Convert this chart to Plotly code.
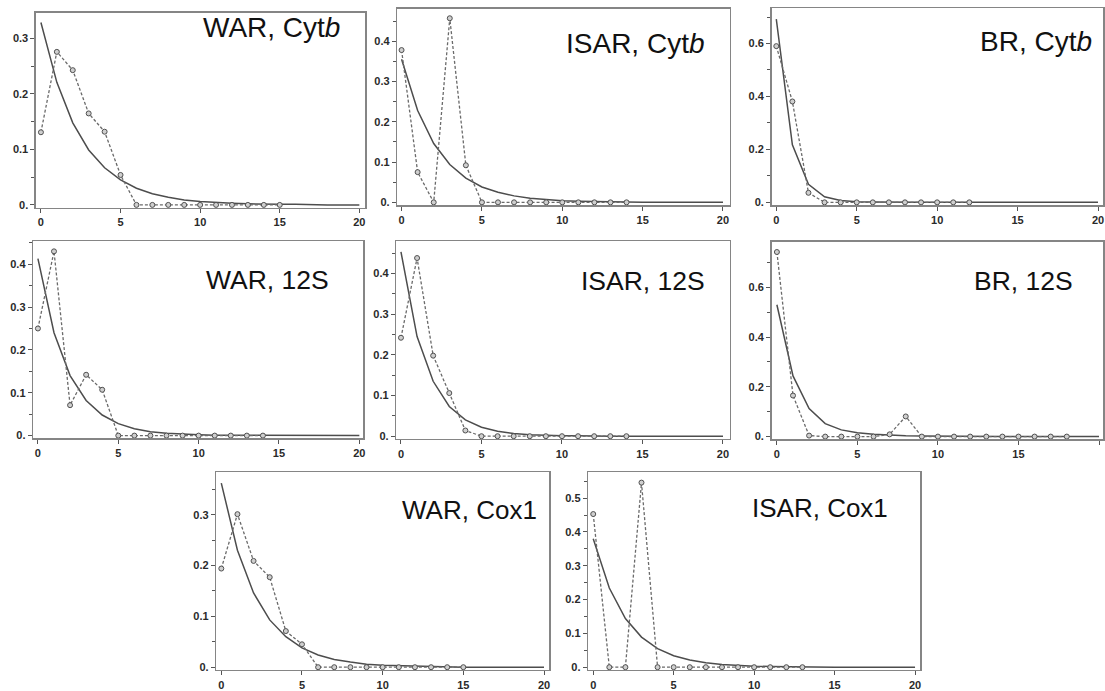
import plotly.graph_objects as go

W, H = 1105, 691

# ---------------- data ----------------
titles = ["WAR, Cyt<i>b</i>", "ISAR, Cyt<i>b</i>", "BR, Cyt<i>b</i>",
          "WAR, 12S", "ISAR, 12S", "BR, 12S",
          "WAR, Cox1", "ISAR, Cox1"]

# observed mismatch distributions (dashed, circles), x = 0,1,2,...
obs_war_cytb = [0.131, 0.276, 0.243, 0.165, 0.132, 0.054, 0, 0, 0, 0, 0, 0, 0, 0, 0, 0]
obs_isar_cytb = [0.378, 0.075, 0.0, 0.457, 0.092, 0, 0, 0, 0, 0, 0, 0, 0, 0, 0]
obs_br_cytb = [0.590, 0.381, 0.036, 0, 0, 0, 0, 0, 0, 0, 0, 0, 0]
obs_war_12s = [0.250, 0.430, 0.071, 0.142, 0.107, 0, 0, 0, 0, 0, 0, 0, 0, 0, 0]
obs_isar_12s = [0.242, 0.438, 0.198, 0.106, 0.014, 0, 0, 0, 0, 0, 0, 0, 0, 0, 0]
obs_br_12s = [0.742, 0.165, 0.004, 0, 0, 0, 0, 0.009, 0.081, 0, 0, 0, 0, 0, 0, 0, 0, 0, 0]
obs_war_cox1 = [0.194, 0.301, 0.209, 0.177, 0.071, 0.045, 0, 0, 0, 0, 0, 0, 0, 0, 0, 0]
obs_isar_cox1 = [0.453, 0, 0, 0.546, 0, 0, 0, 0, 0, 0, 0, 0, 0, 0]

# expected distributions (solid), x = 0..20
exp_war_cytb = [0.329, 0.221, 0.148, 0.099, 0.067, 0.045, 0.030, 0.020, 0.014, 0.009, 0.006,
                0.004, 0.003, 0.002, 0.001, 0.001, 0.001, 0.0, 0.0, 0.0, 0.0]
exp_isar_cytb = [0.355, 0.228, 0.146, 0.094, 0.060, 0.038, 0.025, 0.016, 0.010, 0.0065, 0.004,
                 0.003, 0.002, 0.001, 0.001, 0.0, 0.0, 0.0, 0.0, 0.0, 0.0]
exp_br_cytb = [0.692, 0.217, 0.068, 0.021, 0.007, 0.002, 0.001, 0.0, 0.0, 0.0, 0.0,
               0.0, 0.0, 0.0, 0.0, 0.0, 0.0, 0.0, 0.0, 0.0, 0.0]
exp_war_12s = [0.413, 0.240, 0.140, 0.082, 0.048, 0.028, 0.016, 0.009, 0.0055, 0.003, 0.002,
               0.001, 0.001, 0.0, 0.0, 0.0, 0.0, 0.0, 0.0, 0.0, 0.0]
exp_isar_12s = [0.453, 0.245, 0.135, 0.073, 0.040, 0.022, 0.012, 0.0065, 0.0035, 0.002, 0.001,
                0.001, 0.0, 0.0, 0.0, 0.0, 0.0, 0.0, 0.0, 0.0, 0.0]
exp_br_12s = [0.530, 0.244, 0.113, 0.052, 0.027, 0.015, 0.009, 0.005, 0.003, 0.002, 0.001,
              0.001, 0.0, 0.0, 0.0, 0.0, 0.0, 0.0, 0.0, 0.0, 0.0]
exp_war_cox1 = [0.362, 0.230, 0.146, 0.093, 0.060, 0.038, 0.024, 0.015, 0.010, 0.006, 0.004,
                0.003, 0.002, 0.001, 0.001, 0.0, 0.0, 0.0, 0.0, 0.0, 0.0]
exp_isar_cox1 = [0.380, 0.234, 0.144, 0.089, 0.055, 0.034, 0.021, 0.013, 0.008, 0.005, 0.003,
                 0.002, 0.001, 0.001, 0.0, 0.0, 0.0, 0.0, 0.0, 0.0, 0.0]

observed = [obs_war_cytb, obs_isar_cytb, obs_br_cytb, obs_war_12s,
            obs_isar_12s, obs_br_12s, obs_war_cox1, obs_isar_cox1]
expected = [exp_war_cytb, exp_isar_cytb, exp_br_cytb, exp_war_12s,
            exp_isar_12s, exp_br_12s, exp_war_cox1, exp_isar_cox1]

x_tick_vals = [0, 5, 10, 15, 20]
x_tick_labels = ["0", "5", "10", "15", "20"]
y_ticks_01 = [0, 0.1, 0.2, 0.3, 0.4, 0.5]
y_labels_01 = ["0.", "0.1", "0.2", "0.3", "0.4", "0.5"]
y_ticks_02 = [0, 0.2, 0.4, 0.6]
y_labels_02 = ["0.", "0.2", "0.4", "0.6"]

# ---------------- layout geometry (pixels) ----------------
# frame l, t, r, b ; pixel of x=0, x=20 ; pixel of y=0 ; (y ref value, its pixel) ; tick step
geom = [
    dict(l=36, t=13, r=366, b=210, x0=41, x20=360, y0=207.3, yv=0.3, yp=39.0, step=0.1),
    dict(l=398, t=9, r=731, b=207.5, x0=402.3, x20=724.3, y0=204.7, yv=0.4, yp=41.7, step=0.1),
    dict(l=773, t=8.3, r=1106, b=207.5, x0=777.7, x20=1100, y0=204.7, yv=0.6, yp=44.0, step=0.2),
    dict(l=33.3, t=244, r=364, b=443.5, x0=38, x20=360, y0=440.7, yv=0.4, yp=267.3, step=0.1),
    dict(l=397, t=244, r=731, b=444, x0=401.7, x20=724.3, y0=441.3, yv=0.4, yp=276.7, step=0.1),
    dict(l=773, t=244.5, r=1106, b=444.5, x0=778.3, x20=1101, y0=441.7, yv=0.6, yp=290.7, step=0.2),
    dict(l=216.7, t=477.7, r=550, b=677.7, x0=221.7, x20=545, y0=675, yv=0.3, yp=520.7, step=0.1),
    dict(l=589.3, t=477.7, r=921.7, b=677.7, x0=594.3, x20=916.7, y0=675, yv=0.5, yp=504, step=0.1),
]
# title right edge x, vertical centre y, font size
title_pos = [(343, 28, 28), (708, 44, 28), (1096, 42, 28), (332, 283, 26.5),
             (708, 284, 26.5), (1077, 284, 26.5), (540, 516, 26), (892, 514, 26)]

frame_col = "#858585"
tick_font = dict(family="Liberation Sans, Arial, sans-serif", size=11, color="#2a2a2a", weight="bold")

fig = go.Figure()
layout = dict(width=W, height=H, margin=dict(l=0, r=0, t=0, b=0),
              paper_bgcolor="white", plot_bgcolor="white", showlegend=False)
annotations = []

for i, g in enumerate(geom):
    n = i + 1
    xa = "x" if n == 1 else f"x{n}"
    ya = "y" if n == 1 else f"y{n}"
    obs = observed[i]
    exp_ = expected[i]
    fig.add_trace(go.Scatter(x=list(range(len(exp_))), y=exp_, xaxis=xa, yaxis=ya, mode="lines",
                             line=dict(color="#4d4d4d", width=1.5), cliponaxis=False))
    fig.add_trace(go.Scatter(x=list(range(len(obs))), y=obs, xaxis=xa, yaxis=ya, mode="lines+markers",
                             line=dict(color="#6a6a6a", width=1.3, dash="3px,2px"),
                             marker=dict(symbol="circle", size=5, color="#cfcfcf",
                                         line=dict(color="#505050", width=1)),
                             cliponaxis=False))
    ppu = (g["x20"] - g["x0"]) / 20.0
    ppv = (g["y0"] - g["yp"]) / g["yv"]
    r = min(g["r"], W)
    xr = [(g["l"] - g["x0"]) / ppu, 20 + (r - g["x20"]) / ppu]
    yr = [-(g["b"] - g["y0"]) / ppv, (g["y0"] - g["t"]) / ppv]
    if g["step"] == 0.1:
        tv = [v for v in y_ticks_01 if v <= yr[1]]
        tt = y_labels_01[:len(tv)]
    else:
        tv = [v for v in y_ticks_02 if v <= yr[1]]
        tt = y_labels_02[:len(tv)]
    minor_vals = [round(v + g["step"] / 2, 3) for v in [0] + tv if v + g["step"] / 2 <= yr[1]]
    common = dict(showline=True, mirror=True, linecolor=frame_col, linewidth=1.5,
                  ticks="outside", ticklen=4, tickwidth=1, tickcolor="#555555",
                  tickfont=tick_font, showgrid=False, zeroline=False, fixedrange=True)
    layout["xaxis" if n == 1 else f"xaxis{n}"] = dict(
        domain=[g["l"] / W, r / W], range=xr, anchor=ya,
        tickmode="array", tickvals=x_tick_vals, ticktext=x_tick_labels, **common)
    layout["yaxis" if n == 1 else f"yaxis{n}"] = dict(
        domain=[1 - g["b"] / H, 1 - g["t"] / H], range=yr, anchor=xa,
        tickmode="array", tickvals=tv, ticktext=tt,
        minor=dict(tickmode="array", tickvals=minor_vals, ticks="outside", ticklen=3,
                   tickcolor="#555555", showgrid=False), **common)
    tx, ty, fs = title_pos[i]
    annotations.append(dict(text=titles[i], xref="paper", yref="paper", x=tx / W, y=1 - ty / H,
                            xanchor="right", yanchor="middle", showarrow=False,
                            font=dict(family="Liberation Sans, Arial, sans-serif", size=fs, color="#111111")))

layout["annotations"] = annotations
layout["hovermode"] = False
fig.update_layout(**layout)
fig.write_html("out.html",
               config={"displayModeBar": False, "staticPlot": True},
               post_script="document.body.style.margin='0';document.body.style.padding='0';"
                           "document.body.style.overflow='hidden';")
